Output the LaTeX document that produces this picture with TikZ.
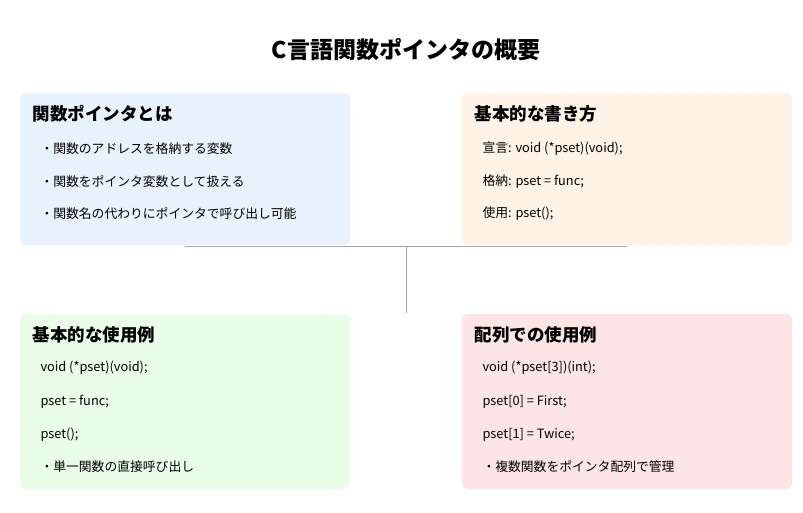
\documentclass[tikz,border=0pt]{standalone}
\usepackage{fontspec}
\setmainfont{Noto Sans CJK JP}
\begin{document}
\begin{tikzpicture}[x=1pt,y=-1pt,
  card/.style={rounded corners=5pt,draw=none},
  head/.style={anchor=west,font=\fontsize{17.5}{20}\selectfont\bfseries},
  item/.style={anchor=west,font=\fontsize{12.8}{15}\selectfont},
  link/.style={draw=gray!70,line width=1pt}]
\useasboundingbox[fill=white] (0,0) rectangle (803,512);
\definecolor{cb}{HTML}{E8F2FD}\definecolor{co}{HTML}{FEF3E6}
\definecolor{cg}{HTML}{E9FDE9}\definecolor{cp}{HTML}{FDE5E5}
\node[font=\fontsize{23}{27}\selectfont\bfseries] (title) at (406,50) {C言語関数ポインタの概要};
\fill[card,cb] (20,93) rectangle (350,245);
\fill[card,co] (462,93) rectangle (792,245);
\fill[card,cg] (20,314) rectangle (350,489);
\fill[card,cp] (462,314) rectangle (792,489);
\coordinate (hl) at (185,246); \coordinate (hr) at (627,246);
\coordinate (hm) at (406,246); \coordinate (vb) at (406,313);
\draw[link] (hl) -- (hr); \draw[link] (hm) -- (vb);
\node[head] (h1) at (29,114) {関数ポインタとは};
\node[item] (a1) at (37,149) {・関数のアドレスを格納する変数};
\node[item] (a2) at (37,182) {・関数をポインタ変数として扱える};
\node[item] (a3) at (37,214) {・関数名の代わりにポインタで呼び出し可能};
\node[head] (h2) at (471,114) {基本的な書き方};
\node[item] (b1) at (479,149) {宣言: void (*pset)(void);};
\node[item] (b2) at (479,182) {格納: pset = func;};
\node[item] (b3) at (479,214) {使用: pset();};
\node[head] (h3) at (29,335) {基本的な使用例};
\node[item] (c1) at (37,368) {void (*pset)(void);};
\node[item] (c2) at (37,402) {pset = func;};
\node[item] (c3) at (37,435) {pset();};
\node[item] (c4) at (37,467) {・単一関数の直接呼び出し};
\node[head] (h4) at (471,335) {配列での使用例};
\node[item] (d1) at (479,368) {void (*pset[3])(int);};
\node[item] (d2) at (479,402) {pset[0] = First;};
\node[item] (d3) at (479,435) {pset[1] = Twice;};
\node[item] (d4) at (479,467) {・複数関数をポインタ配列で管理};
\end{tikzpicture}
\end{document}
